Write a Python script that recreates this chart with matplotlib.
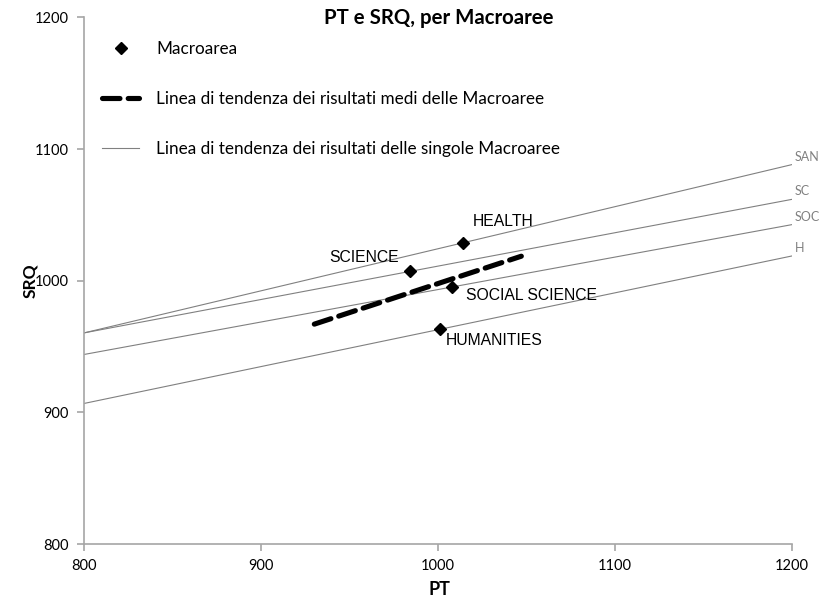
import matplotlib.pyplot as plt
from matplotlib.lines import Line2D

# macroaree (PT, SRQ)
areas = ["HEALTH", "SCIENCE", "SOCIAL SCIENCE", "HUMANITIES"]
pt = [1014, 984, 1008, 1001]
srq = [1028.7, 1007.4, 995.3, 963.2]

# trend line of the mean results
mean_x = [930, 1047]
mean_y = [967, 1018.6]

# trend lines of the single macroaree, evaluated at PT = 800 and 1200
trend_names = ["SAN", "SC", "SOC", "H"]
trend_x = [800, 1200]
trend_y = [[960.4, 1088.2], [960.4, 1061.8], [944.0, 1042.6], [906.8, 1018.8]]

xticks = [800, 900, 1000, 1100, 1200]
yticks = [800, 900, 1000, 1100, 1200]

fig = plt.figure(figsize=(8.21, 6.06), dpi=100)
ax = fig.add_axes([0.1027, 0.1023, 0.862, 0.869])

axis_gray = "#a6a6a6"
line_gray = "#808080"

for name, ys in zip(trend_names, trend_y):
    ax.plot(trend_x, ys, color=line_gray, lw=0.8, zorder=2)
    ax.annotate(name, (trend_x[-1], ys[-1]), xytext=(3, 2), textcoords="offset pixels",
                fontsize=9, family="Lato", color=line_gray, va="bottom", ha="left",
                annotation_clip=False)

ax.plot(mean_x, mean_y, color="black", lw=3.7, dashes=(3.4, 1.6),
        dash_capstyle="round", zorder=3)
ax.plot(pt, srq, "D", color="black", ms=6.5, ls="none", zorder=4)

# point labels: (dx, dy) in pixels and horizontal alignment
offsets = {"HEALTH": (10, 21, "left"), "SCIENCE": (-11, 13, "right"),
           "SOCIAL SCIENCE": (14, -9, "left"), "HUMANITIES": (6, -11, "left")}
for name, x, y in zip(areas, pt, srq):
    dx, dy, ha = offsets[name]
    ax.annotate(name, (x, y), xytext=(dx, dy), textcoords="offset pixels",
                fontsize=11.3, family="Liberation Sans", ha=ha, va="center")

ax.set_xlim(800, 1200)
ax.set_ylim(800, 1200)
ax.set_xticks(xticks)
ax.set_yticks(yticks)
for s in ["top", "right"]:
    ax.spines[s].set_visible(False)
for s in ["left", "bottom"]:
    ax.spines[s].set_color(axis_gray)
    ax.spines[s].set_linewidth(1.2)
ax.tick_params(colors=axis_gray, length=5, width=1.2, labelcolor="black", labelsize=10.5)
for lab in ax.get_xticklabels() + ax.get_yticklabels():
    lab.set_family("Lato")
ax.tick_params(axis="x", pad=6)
ax.tick_params(axis="y", pad=6)

handles = [
    Line2D([], [], marker="D", color="black", ls="none", ms=6.5),
    Line2D([], [], color="black", lw=3.7, dashes=(3.4, 1.6), dash_capstyle="round"),
    Line2D([], [], color=line_gray, lw=0.8),
]
labels = ["Macroarea", "Linea di tendenza dei risultati medi delle Macroaree",
          "Linea di tendenza dei risultati delle singole Macroaree"]
ax.legend(handles, labels, loc="upper left", bbox_to_anchor=(0.003, 0.985), frameon=False,
          prop={"family": "Lato", "size": 12.3}, labelspacing=2.0, handlelength=2.2,
          handletextpad=1.0)

fig.text(0.535, 0.97, "PT e SRQ, per Macroaree", ha="center", va="center",
         fontsize=14.7, fontweight="bold", family="Lato")
fig.text(0.037, 0.537, "SRQ", rotation=90, ha="center", va="center",
         fontsize=12.5, fontweight="bold", family="Lato")
fig.text(0.535, 0.027, "PT", ha="center", va="center",
         fontsize=13, fontweight="bold", family="Lato")

fig.savefig("out.png", dpi=100)
